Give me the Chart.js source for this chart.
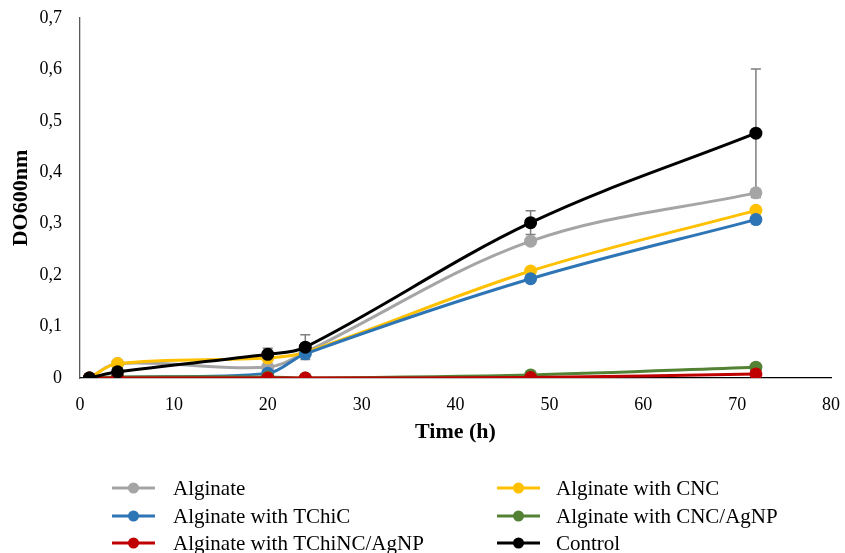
<!DOCTYPE html>
<html>
<head>
<meta charset="utf-8">
<script src="https://cdn.jsdelivr.net/npm/chart.js@4.4.1/dist/chart.umd.min.js"></script>
<style>
  html, body { margin: 0; padding: 0; background: #fff; }
  #wrap { width: 845px; height: 553px; position: relative; }
</style>
</head>
<body>
<div id="wrap"><canvas id="growth"></canvas></div>
<script>
// sampling times (h)
var times = [1, 4, 20, 24, 48, 72];

// optical density per treatment
var alginate      = [0, 0.028, 0.021, 0.050, 0.266, 0.360];
var alginateCNC   = [0, 0.028, 0.039, 0.050, 0.208, 0.326];
var alginateTChiC = [0, 0.001, 0.009, 0.047, 0.193, 0.308];
var alginateCNCAg = [0, 0.002, 0.002, 0.000, 0.006, 0.021];
var alginateTChiAg = [0, 0.000, 0.000, 0.000, 0.001, 0.008];
var control       = [0, 0.012, 0.046, 0.060, 0.302, 0.476];

// standard deviation of control
var controlErr = [0, 0.003, 0.012, 0.024, 0.023, 0.125];

var seriesNames = ['Alginate', 'Alginate with CNC', 'Alginate with TChiC',
  'Alginate with CNC/AgNP', 'Alginate with TChiNC/AgNP', 'Control'];
var yTickLabels = ['0', '0,1', '0,2', '0,3', '0,4', '0,5', '0,6', '0,7'];
var xTickLabels = ['0', '10', '20', '30', '40', '50', '60', '70', '80'];

var colors = ['#A5A5A5', '#FFC000', '#2E75B6', '#548235', '#C00000', '#000000'];
var allValues = [alginate, alginateCNC, alginateTChiC, alginateCNCAg, alginateTChiAg, control];
var allErrors = [null, null, null, null, null, controlErr];

function points(vals) {
    return vals.map(function (v, i) { return { x: times[i], y: v }; });
}

var datasets = allValues.map(function (vals, i) {
    return {
        label: seriesNames[i],
        data: points(vals),
        errors: allErrors[i],
        borderColor: colors[i],
        backgroundColor: colors[i],
        borderWidth: 3,
        pointRadius: 6.5,
        pointBorderWidth: 0,
        tension: 0.35,
        order: 6 - i,
    };
});

// error bars, drawn under the markers
const errorBars = {
    id: 'errorBars',
    beforeDatasetsDraw(chart) {
        const ctx = chart.ctx;
        const xs = chart.scales.x, ys = chart.scales.y;
        ctx.save();
        ctx.strokeStyle = '#7F7F7F';
        ctx.lineWidth = 1.5;
        chart.data.datasets.forEach(function (ds) {
            if (!ds.errors) return;
            ds.data.forEach(function (p, i) {
                var e = ds.errors[i];
                if (!e) return;
                var px = xs.getPixelForValue(p.x);
                var top = ys.getPixelForValue(p.y + e);
                var bot = ys.getPixelForValue(p.y - e);
                ctx.beginPath();
                ctx.moveTo(px, top); ctx.lineTo(px, bot);
                ctx.moveTo(px - 5, top); ctx.lineTo(px + 5, top);
                ctx.moveTo(px - 5, bot); ctx.lineTo(px + 5, bot);
                ctx.stroke();
            });
        });
        ctx.restore();
    }
};

// two-column legend below the plot
const bottomLegend = {
    id: 'bottomLegend',
    afterDraw(chart) {
        const ctx = chart.ctx;
        var colX = [112, 497];
        var textX = [173, 556];
        var rowY = [488, 516, 543];
        ctx.save();
        ctx.font = '21px "Liberation Serif", "Times New Roman", serif';
        ctx.textBaseline = 'middle';
        chart.data.datasets.forEach(function (ds, i) {
            var x = colX[i % 2], y = rowY[Math.floor(i / 2)];
            ctx.strokeStyle = ds.borderColor;
            ctx.lineWidth = 3;
            ctx.beginPath();
            ctx.moveTo(x, y); ctx.lineTo(x + 43, y);
            ctx.stroke();
            ctx.fillStyle = ds.backgroundColor;
            ctx.beginPath();
            ctx.arc(x + 21.5, y, 5.5, 0, Math.PI * 2);
            ctx.fill();
            ctx.fillStyle = '#000';
            ctx.fillText(ds.label, textX[i % 2], y + 1);
        });
        ctx.restore();
    }
};

const serif = '"Liberation Serif", "Times New Roman", serif';

new Chart(document.getElementById('growth'), {
    type: 'line',
    data: { datasets: datasets },
    options: {
        responsive: true,
        maintainAspectRatio: false,
        animation: false,
        layout: { padding: { left: 0, right: 14, top: 18, bottom: 106 } },
        plugins: {
            legend: { display: false },
            tooltip: { enabled: false },
        },
        scales: {
            x: {
                type: 'linear',
                min: 0, max: 80,
                ticks: {
                    stepSize: 10,
                    padding: 16,
                    color: '#000',
                    font: { family: serif, size: 18 },
                    callback: function (v) { return xTickLabels[Math.round(v / 10)]; },
                },
                grid: { display: false, drawTicks: false },
                border: { color: '#000', width: 1.3 },
                title: {
                    display: true, text: 'Time (h)', color: '#000',
                    font: { family: serif, size: 22, weight: 'bold' },
                    padding: { top: 2, bottom: 1 },
                },
                afterFit: function (s) { s.height = 69; s.paddingLeft = 0; s.paddingRight = 0; },
            },
            y: {
                min: 0, max: 0.7,
                ticks: {
                    stepSize: 0.1,
                    padding: 18,
                    color: '#000',
                    font: { family: serif, size: 18 },
                    callback: function (v) { return yTickLabels[Math.round(v * 10)]; },
                },
                grid: { display: false, drawTicks: false },
                border: { color: '#595959', width: 1.3 },
                title: {
                    display: true, text: 'DO600nm', color: '#000',
                    font: { family: serif, size: 22, weight: 'bold' },
                    padding: { top: 8, bottom: 0 },
                },
                afterFit: function (s) { s.width = 80; s.paddingTop = 0; s.paddingBottom = 0; },
            },
        },
    },
    plugins: [errorBars, bottomLegend],
});
</script>
</body>
</html>
